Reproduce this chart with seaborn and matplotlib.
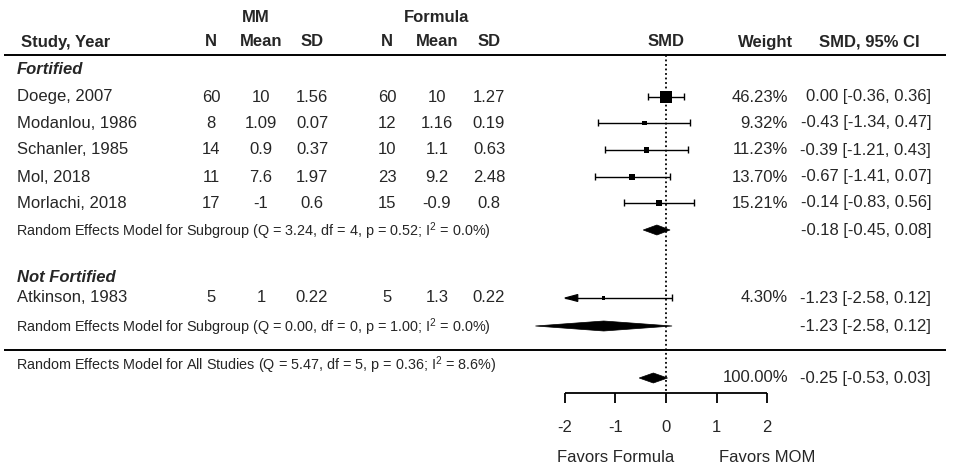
"""
Forest plot: MM vs Formula, standardized mean difference by fortification subgroup.
"""

import matplotlib

matplotlib.use("Agg")
import matplotlib.pyplot as plt
import numpy as np
import pandas as pd
import seaborn as sns

# ---- data ----
studies = ["Doege, 2007", "Modanlou, 1986", "Schanler, 1985", "Mol, 2018",
           "Morlachi, 2018", "Atkinson, 1983"]
subgroup = ["Fortified"] * 5 + ["Not Fortified"]
mm_n = [60, 8, 14, 11, 17, 5]
mm_mean = [10, 1.09, 0.9, 7.6, -1, 1]
mm_sd = [1.56, 0.07, 0.37, 1.97, 0.6, 0.22]
formula_n = [60, 12, 10, 23, 15, 5]
formula_mean = [10, 1.16, 1.1, 9.2, -0.9, 1.3]
formula_sd = [1.27, 0.19, 0.63, 2.48, 0.8, 0.22]
smd = [0.00, -0.43, -0.39, -0.67, -0.14, -1.23]
ci_lower = [-0.36, -1.34, -1.21, -1.41, -0.83, -2.58]
ci_upper = [0.36, 0.47, 0.43, 0.07, 0.56, 0.12]
weight = [46.23, 9.32, 11.23, 13.70, 15.21, 4.30]

subgroup_names = ["Fortified", "Not Fortified"]
subgroup_est = [-0.18, -1.23]
subgroup_lower = [-0.45, -2.58]
subgroup_upper = [0.08, 0.12]
subgroup_q = [3.24, 0.00]
subgroup_df = [4, 0]
subgroup_p = [0.52, 1.00]
subgroup_i2 = [0.0, 0.0]

overall_est = -0.25
overall_lower = -0.53
overall_upper = 0.03
overall_q = 5.47
overall_df = 5
overall_p = 0.36
overall_i2 = 8.6
overall_weight = 100.00

x_ticks = [-2, -1, 0, 1, 2]
axis_limit = 2

# ---- layout (pixel rows / columns of the 957x469 canvas) ----
W, H = 957, 469
ZERO_PX = 666
PX_PER_UNIT = 50.6
study_rows = [97, 123, 150, 177, 203, 298]
group_rows = [69, 278]
subgroup_rows = [230, 326]
overall_label_row = 365
overall_row = 378
top_line_row = 55
sep_line_row = 350
axis_row = 393

FONT = ["Liberation Sans", "DejaVu Sans"]

sns.set_theme(style="white")
plt.rcParams["font.family"] = FONT
plt.rcParams["mathtext.fontset"] = "custom"
plt.rcParams["mathtext.rm"] = "Liberation Sans"


def px(x_pixel: float) -> float:
    return (x_pixel - ZERO_PX) / PX_PER_UNIT


def fmt(value: float) -> str:
    return f"{value:g}"


df = pd.DataFrame({
    "study": studies, "group": subgroup, "smd": smd, "lo": ci_lower,
    "hi": ci_upper, "weight": weight, "row": study_rows,
})

fig = plt.figure(figsize=(W / 100, H / 100), dpi=100)
ax = fig.add_axes([0, 0, 1, 1])
ax.set_xlim(px(0), px(W))
ax.set_ylim(H, 0)
ax.axis("off")

# header
bold = dict(fontsize=12, fontweight="bold", va="center")
ax.text(px(21), 42, "Study, Year", ha="left", **bold)
ax.text(px(256), 17, "MM", ha="center", **bold)
ax.text(px(437), 17, "Formula", ha="center", **bold)
for col_px, label in zip([211, 261, 312, 387, 437, 489],
                         ["N", "Mean", "SD", "N", "Mean", "SD"]):
    ax.text(px(col_px), 42, label, ha="center", **bold)
ax.text(0, 42, "SMD", ha="center", **bold)
ax.text(px(766), 42, "Weight", ha="center", **bold)
ax.text(px(869), 42, "SMD, 95% CI", ha="center", **bold)
ax.hlines([top_line_row, sep_line_row], px(4), px(946), color="black", lw=1.4)

# reference line at 0
ax.vlines(0, top_line_row, axis_row, color="black", lw=1.3, linestyles=(0, (1, 1.5)))

# group labels
for name, row in zip(subgroup_names, group_rows):
    ax.text(px(17), row, name, ha="left", va="center", fontsize=12,
            fontweight="bold", fontstyle="italic")

# study rows: table text
num = dict(fontsize=12, va="center")
for i, r in df.iterrows():
    y = r["row"]
    ax.text(px(17), y, r["study"], ha="left", **num)
    values = [mm_n[i], mm_mean[i], mm_sd[i], formula_n[i], formula_mean[i], formula_sd[i]]
    for col_px, v in zip([211, 261, 312, 387, 437, 489], values):
        ax.text(px(col_px), y, fmt(v), ha="center", **num)
    ax.text(px(788), y, f"{r['weight']:.2f}%", ha="right", **num)
    ax.text(px(931), y, f"{r['smd']:.2f} [{r['lo']:.2f}, {r['hi']:.2f}]", ha="right", **num)

# confidence intervals with caps / clipping arrows
cap = 3.5
for _, r in df.iterrows():
    y = r["row"]
    lo = max(r["lo"], -axis_limit)
    hi = min(r["hi"], axis_limit)
    ax.hlines(y, lo, hi, color="black", lw=1.0)
    if r["lo"] < -axis_limit:
        head = px(ZERO_PX + 13) - px(ZERO_PX)
        ax.fill([lo, lo + head, lo + head], [y, y - 3.5, y + 3.5], color="black", lw=0.8)
    else:
        ax.vlines(lo, y - cap, y + cap, color="black", lw=1.0)
    ax.vlines(hi, y - cap, y + cap, color="black", lw=1.0)

# weight-scaled squares
sizes = {w: 63 * w / max(weight) for w in weight}
sns.scatterplot(data=df, x="smd", y="row", size="weight", sizes=sizes, marker="s",
                color="black", edgecolor="none", legend=False, ax=ax, zorder=3)
ax.set_xlabel("")
ax.set_ylabel("")
ax.axis("off")

# subgroup summaries
small = dict(fontsize=10.4, va="center")
for k, row in enumerate(subgroup_rows):
    label = (f"Random Effects Model for Subgroup (Q = {subgroup_q[k]:.2f}, "
             f"df = {subgroup_df[k]}, p = {subgroup_p[k]:.2f}; "
             f"I$^{{\\mathregular{{2}}}}$ = {subgroup_i2[k]:.1f}%)")
    ax.text(px(16), row + 1, label, ha="left", **small)
    est, lo, hi = subgroup_est[k], subgroup_lower[k], subgroup_upper[k]
    ax.fill([lo, est, hi, est], [row, row - 5, row, row + 5], color="black", lw=0.5)
    ax.text(px(931), row, f"{est:.2f} [{lo:.2f}, {hi:.2f}]", ha="right", **num)

# overall summary
label = (f"Random Effects Model for All Studies (Q = {overall_q:.2f}, df = {overall_df}, "
         f"p = {overall_p:.2f}; I$^{{\\mathregular{{2}}}}$ = {overall_i2:.1f}%)")
ax.text(px(16), overall_label_row, label, ha="left", **small)
ax.fill([overall_lower, overall_est, overall_upper, overall_est],
        [overall_row, overall_row - 5, overall_row, overall_row + 5], color="black", lw=0.5)
ax.text(px(788), overall_row, f"{overall_weight:.2f}%", ha="right", **num)
ax.text(px(931), overall_row,
        f"{overall_est:.2f} [{overall_lower:.2f}, {overall_upper:.2f}]", ha="right", **num)

# x axis
ax.hlines(axis_row, min(x_ticks), max(x_ticks), color="black", lw=1.3)
ax.vlines(x_ticks, axis_row, axis_row + 10, color="black", lw=1.3)
for t in x_ticks:
    ax.text(t, 427, f"{t:g}", ha="center", va="center", fontsize=12)
ax.text(-1, 457, "Favors Formula", ha="center", va="center", fontsize=12)
ax.text(2, 457, "Favors MOM", ha="center", va="center", fontsize=12)

fig.savefig("out.png", dpi=100, facecolor="white")
